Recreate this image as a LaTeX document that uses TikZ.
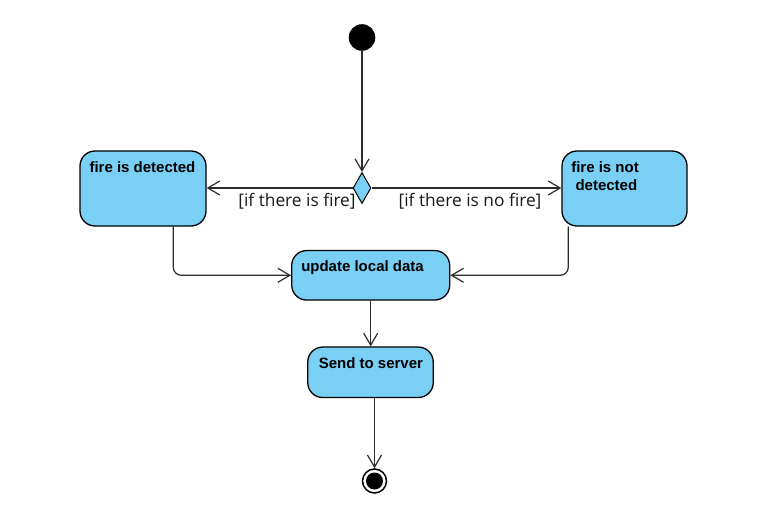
\documentclass[tikz,border=0pt]{standalone}
\usepackage{fontspec}
\setmainfont{Liberation Sans}
\newfontfamily\guardfont{Open Sans}
\usetikzlibrary{arrows.meta,shapes.geometric,calc}
\definecolor{actblue}{RGB}{122,207,244}
\definecolor{wire}{RGB}{45,45,45}

\begin{document}
\begin{tikzpicture}[x=1pt,y=-1pt,
    act/.style={rectangle, draw=black, line width=1.3pt, fill=actblue, rounded corners=15pt, inner sep=0pt},
    acttext/.style={font=\fontsize{15}{18}\selectfont\bfseries, inner sep=0pt, align=left},
    guard/.style={font=\guardfont\fontsize{17.3}{18}\selectfont, text=black!90, inner sep=0pt},
    flow/.style={draw=wire, line width=1.2pt, -{Straight Barb[length=12pt,width=14pt]}}]
    \useasboundingbox (0,0) rectangle (758,508);
    % start, decision
    \node[circle, fill=black, minimum size=26.6pt, inner sep=0pt] (start) at (362,37.5) {};
    \node[diamond, draw=black, line width=1pt, fill=actblue, minimum width=18pt, minimum height=31pt, inner sep=0pt] (dec) at (362,188) {};
    % activities
    \node[act, minimum width=126pt, minimum height=75pt] (det) at (143,188.5) {};
    \node[act, minimum width=125pt, minimum height=75pt] (nodet) at (624.5,188.5) {};
    \node[act, minimum width=158pt, minimum height=49.5pt] (upd) at (370.7,275.3) {};
    \node[act, minimum width=125.5pt, minimum height=50.5pt] (send) at (370.5,372.3) {};
    \node[acttext, anchor=base west] (dettxt) at ($(det.north west)+(10,22.3)$) {fire is detected};
    \node[acttext, anchor=north west] (nodettxt) at ($(nodet.north west)+(9.7,11.3)$) {fire is not\\\hspace{4.3pt}detected};
    \node[acttext, anchor=base west] (updtxt) at ($(upd.north west)+(10,21.1)$) {update local data};
    \node[acttext, anchor=base west] (sendtxt) at ($(send.north west)+(11.5,22.3)$) {Send to server};
    % final
    \node[circle, draw=black, line width=1.5pt, fill=white, minimum size=24pt, inner sep=0pt] (stop) at (374.5,481) {};
    \node[circle, fill=black, minimum size=17pt, inner sep=0pt] (stopdot) at (stop) {};
    % flows
    \draw[flow] (start) -- (dec.north);
    \draw[flow] (dec.west) -- (dec.west -| det.east);
    \draw[flow] (dec.east) -- (dec.east -| nodet.west);
    \node[guard] (yes) at (297,201.5) {[if there is fire]};
    \node[guard] (no) at (470,201.5) {[if there is no fire]};
    \draw[flow, rounded corners=8pt] ($(det.south)+(30.3,0)$) |- (upd.west);
    \draw[flow, rounded corners=8pt] ($(nodet.south)+(-56.2,0)$) |- (upd.east);
    \draw[flow] (upd.south) -- (upd.south |- send.north);
    \draw[flow] (send.south -| stop) -- (stop.north);
\end{tikzpicture}
\end{document}
